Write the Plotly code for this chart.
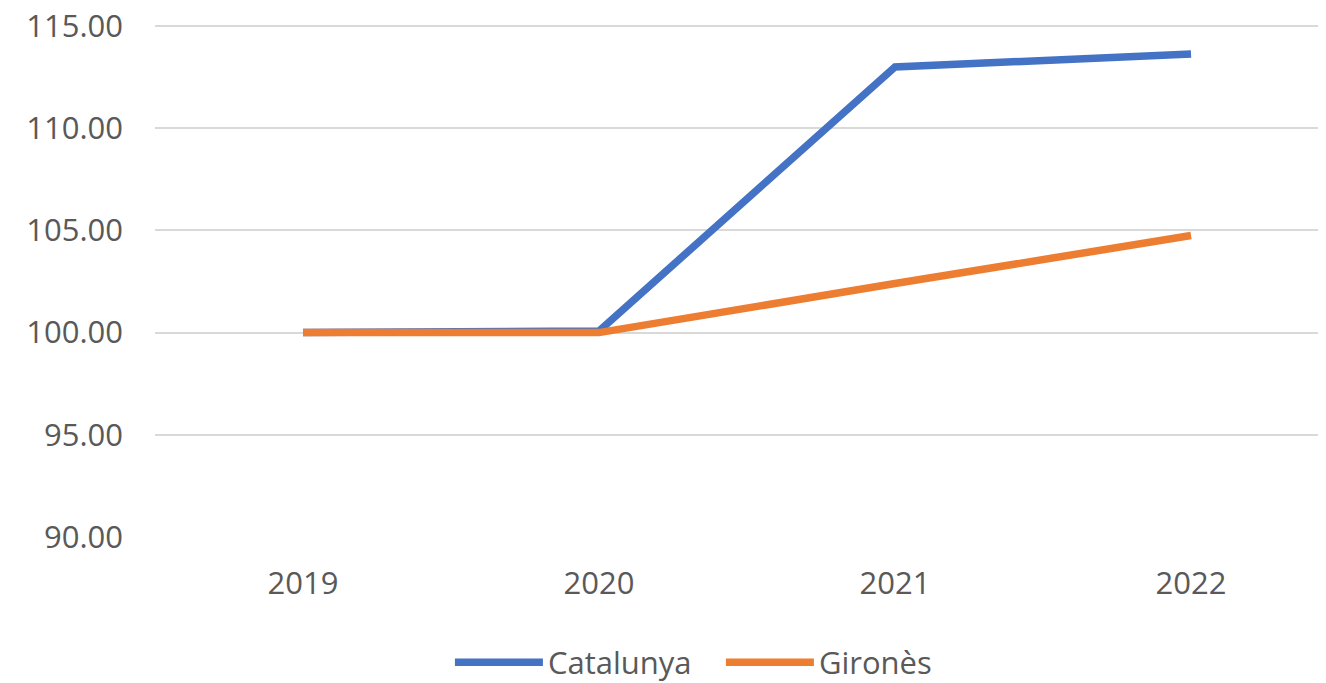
import plotly.graph_objects as go

years = ['2019', '2020', '2021', '2022']
catalunya = [100.00, 100.08, 113.00, 113.63]
girones = [100.00, 100.00, 102.40, 104.75]

FONT = 'Open Sans'
GREY = '#595959'

fig = go.Figure()
fig.add_trace(go.Scatter(
    x=years, y=catalunya, mode='lines', name='Catalunya',
    line=dict(color='#4472C4', width=7.5),
))
fig.add_trace(go.Scatter(
    x=years, y=girones, mode='lines', name='Gironès',
    line=dict(color='#ED7D31', width=7.5),
))

# the page body keeps its 8px default margin, so margins here are 8px less
fig.update_layout(
    width=1326,
    height=683,
    autosize=False,
    paper_bgcolor='white',
    plot_bgcolor='white',
    margin=dict(l=147, r=0, t=16, b=154, autoexpand=False),
    font=dict(family=FONT, size=31, color=GREY),
    xaxis=dict(
        type='category',
        range=[-0.5, 3.483],
        showgrid=False,
        showline=False,
        zeroline=False,
        automargin=False,
        ticks='',
        ticklabelstandoff=25,
        tickfont=dict(size=31, color=GREY),
    ),
    yaxis=dict(
        range=[90, 115.1],
        tickvals=[90, 95, 100, 105, 110, 115],
        tickformat='.2f',
        showgrid=True,
        gridcolor='#D9D9D9',
        gridwidth=2,
        zeroline=False,
        showline=False,
        automargin=False,
        ticks='',
        ticklabelstandoff=31,
        ticklabeloverflow='allow',
        tickfont=dict(size=31, color=GREY),
    ),
    legend=dict(
        orientation='h',
        x=0.48, xanchor='center',
        y=-0.2446, yanchor='middle',
        itemwidth=88,
        entrywidth=168,
        font=dict(size=31, color=GREY),
    ),
    showlegend=True,
)

fig.write_html('out.html')
